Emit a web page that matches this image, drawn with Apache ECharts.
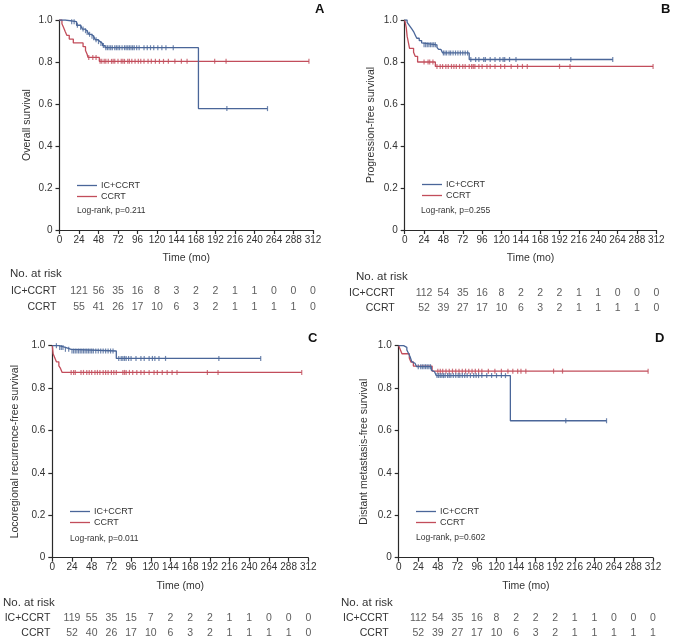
<!DOCTYPE html>
<html>
<head>
<meta charset="utf-8">
<script src="https://cdn.jsdelivr.net/npm/echarts@6/dist/echarts.min.js"></script>
<style>
html, body { margin: 0; background: #fff; }
#chart { width: 677px; height: 643px; }
</style>
</head>
<body>
<div id="chart"></div>
<script>
const FONT = "'Liberation Sans', Arial, sans-serif";
const BLUE = '#4a6699';
const RED = '#c24d5b';
const TXT = '#333';

const groups = ['IC+CCRT', 'CCRT'];
const riskTimes = [24, 48, 72, 96, 120, 144, 168, 192, 216, 240, 264, 288, 312];

// A - overall survival
const osIcSteps = [[0,1],[7,0.992],[21,0.975],[26,0.966],[28,0.957],[31,0.949],[34,0.940],[36,0.932],[39,0.923],[42,0.915],[44,0.906],[47,0.897],[50,0.888],[53,0.878],[56,0.868],[171,0.578],[256,0.578]];
const osIcCensor = [15,18,22,26,29,32,34,37,40,42,45,48,51,54,57,59,61,63,65,68,70,72,74,77,80,82,84,86,88,90,92,95,98,104,108,112,116,121,126,131,140,206,256];
const osCcSteps = [[0,1],[3,0.982],[5,0.964],[7,0.945],[9,0.927],[12,0.909],[17,0.891],[29,0.873],[32,0.855],[34,0.837],[35,0.822],[49,0.803],[307,0.803]];
const osCcCensor = [36,41,45,50,52,55,57,60,64,66,68,72,76,78,80,84,86,89,93,97,100,104,109,113,118,123,128,134,142,150,157,191,205,307];
const osRiskIc = [121,56,35,16,8,3,2,2,1,1,0,0,0];
const osRiskCc = [55,41,26,17,10,6,3,2,1,1,1,1,0];

// B - progression-free survival
const pfsIcSteps = [[0,1],[3,0.989],[5,0.978],[7,0.967],[9,0.956],[11,0.945],[13,0.929],[15,0.913],[18,0.902],[21,0.891],[23,0.882],[40,0.870],[42,0.860],[45,0.852],[47,0.843],[80,0.812],[258,0.812]];
const pfsIcCensor = [24,26,28,30,32,34,36,38,48,50,52,55,57,60,63,66,69,72,75,78,82,88,92,98,100,106,112,118,122,124,130,138,206,258];
const pfsCcSteps = [[0,1],[1,0.981],[2,0.962],[3,0.923],[4,0.904],[6,0.865],[11,0.846],[13,0.827],[16,0.800],[38,0.779],[308,0.779]];
const pfsCcCensor = [24,29,31,35,40,44,47,51,54,58,61,64,68,72,75,80,83,85,87,92,96,102,106,112,119,124,132,140,146,152,192,205,308];
const pfsRiskIc = [112,54,35,16,8,2,2,2,1,1,0,0,0];
const pfsRiskCc = [52,39,27,17,10,6,3,2,1,1,1,1,0];

// C - locoregional recurrence-free survival
const lrfsIcSteps = [[0,1],[8,0.992],[16,0.983],[23,0.975],[78,0.940],[254,0.940]];
const lrfsIcCensor = [5,9,11,13,16,20,24,26,28,30,32,34,36,38,40,42,44,46,48,50,53,56,59,62,65,68,71,74,81,84,86,88,90,93,96,102,108,112,118,122,125,130,138,203,254];
const lrfsCcSteps = [[0,1],[1,0.962],[3,0.943],[5,0.924],[8,0.905],[10,0.893],[12,0.874],[304,0.874]];
const lrfsCcCensor = [23,26,28,35,38,42,45,48,52,55,58,62,65,68,72,75,78,86,88,90,94,98,103,108,112,118,124,128,134,140,146,152,189,202,304];
const lrfsRiskIc = [119,55,35,15,7,2,2,2,1,1,0,0,0];
const lrfsRiskCc = [52,40,26,17,10,6,3,2,1,1,1,1,0];

// D - distant metastasis-free survival
const dmfsIcSteps = [[0,1],[6,0.992],[10,0.980],[12,0.964],[14,0.948],[16,0.925],[18,0.917],[20,0.909],[22,0.901],[40,0.885],[42,0.877],[44,0.870],[46,0.859],[137,0.646],[255,0.646]];
const dmfsIcCensor = [24,27,29,31,33,35,37,39,47,49,51,53,55,57,60,62,64,67,70,73,75,78,81,84,88,92,95,98,102,108,114,120,126,131,205,255];
const dmfsCcSteps = [[0,1],[2,0.981],[4,0.962],[13,0.942],[15,0.923],[18,0.904],[41,0.880],[306,0.880]];
const dmfsCcCensor = [48,51,54,58,62,66,70,74,78,82,86,90,94,98,102,110,118,126,134,140,146,150,156,190,201,306];
const dmfsRiskIc = [112,54,35,16,8,2,2,2,1,1,0,0,0];
const dmfsRiskCc = [52,39,27,17,10,6,3,2,1,1,1,1,1];

const panels = [
  {letter:'A', yName:'Overall survival', pval:'Log-rank, p=0.211',
   ic:osIcSteps, icC:osIcCensor, cc:osCcSteps, ccC:osCcCensor, riskIc:osRiskIc, riskCc:osRiskCc,
   grid:{left:59.5, top:20, width:253.5, height:210}, risk:{top:283, height:32}, riskMargin:3, yGap:27,
   letterPos:[315, 3], legendPos:[77, 181], pPos:[77, 206], noRiskPos:[10, 268]},
  {letter:'B', yName:'Progression-free survival', pval:'Log-rank, p=0.255',
   ic:pfsIcSteps, icC:pfsIcCensor, cc:pfsCcSteps, ccC:pfsCcCensor, riskIc:pfsRiskIc, riskCc:pfsRiskCc,
   grid:{left:404.7, top:20, width:251.6, height:210}, risk:{top:285, height:31}, riskMargin:10, yGap:28,
   letterPos:[661, 3], legendPos:[422, 180], pPos:[421, 206], noRiskPos:[356, 271]},
  {letter:'C', yName:'Locoregional recurrence-free survival', pval:'Log-rank, p=0.011',
   ic:lrfsIcSteps, icC:lrfsIcCensor, cc:lrfsCcSteps, ccC:lrfsCcCensor, riskIc:lrfsRiskIc, riskCc:lrfsRiskCc,
   grid:{left:52.3, top:345.7, width:256, height:212}, risk:{top:610.5, height:30}, riskMargin:2, yGap:32,
   letterPos:[308, 332], legendPos:[70, 507], pPos:[70, 534], noRiskPos:[3, 597]},
  {letter:'D', yName:'Distant metastasis-free survival', pval:'Log-rank, p=0.602',
   ic:dmfsIcSteps, icC:dmfsIcCensor, cc:dmfsCcSteps, ccC:dmfsCcCensor, riskIc:dmfsRiskIc, riskCc:dmfsRiskCc,
   grid:{left:398.7, top:345.7, width:254.3, height:212}, risk:{top:610.5, height:30}, riskMargin:10, yGap:29,
   letterPos:[655, 332], legendPos:[416, 507], pPos:[416, 533], noRiskPos:[341, 597]}
];

function survivalAt(steps, t) {
  let s = steps[0][1];
  for (const p of steps) {
    if (p[0] <= t) s = p[1];
  }
  return s;
}

const grids = [], xAxes = [], yAxes = [], series = [], legends = [], titles = [], texts = [];
const axisLine = {lineStyle:{color:'#2a2a2a', width:1.2}};
const tickStyle = {inside:false, length:4, lineStyle:{color:'#2a2a2a', width:1.2}};

panels.forEach((p, i) => {
  const g = 2 * i, r = 2 * i + 1;
  grids.push(Object.assign({containLabel:false}, p.grid));
  grids.push({left:p.grid.left, width:p.grid.width, top:p.risk.top, height:p.risk.height});

  xAxes.push({gridIndex:g, type:'value', min:0, max:312, interval:24,
    name:'Time (mo)', nameLocation:'middle', nameGap:23,
    nameTextStyle:{fontFamily:FONT, fontSize:10.5, color:TXT},
    axisLine:axisLine, axisTick:tickStyle, splitLine:{show:false},
    axisLabel:{fontFamily:FONT, fontSize:10, color:TXT, margin:5}});
  xAxes.push({gridIndex:r, type:'value', min:0, max:312, show:false});

  yAxes.push({gridIndex:g, type:'value', min:0, max:1, interval:0.2,
    name:p.yName, nameLocation:'middle', nameGap:p.yGap,
    nameTextStyle:{fontFamily:FONT, fontSize:10.5, color:TXT},
    axisLine:axisLine, axisTick:tickStyle, splitLine:{show:false},
    axisLabel:{fontFamily:FONT, fontSize:10, color:TXT, margin:7,
      formatter:v => v === 0 ? '0' : v.toFixed(1)}});
  yAxes.push({gridIndex:r, type:'category', data:groups, inverse:true,
    axisLine:{show:false}, axisTick:{show:false}, splitLine:{show:false},
    axisLabel:{interval:0, fontFamily:FONT, fontSize:10.5, color:TXT, margin:p.riskMargin}});

  const curves = [[groups[1], p.cc, p.ccC, RED], [groups[0], p.ic, p.icC, BLUE]];
  curves.forEach(([name, steps, cens, color]) => {
    series.push({type:'line', name:name, xAxisIndex:g, yAxisIndex:g, step:'end',
      data:steps, symbol:'none', lineStyle:{color:color, width:1.3}, itemStyle:{color:color},
      animation:false, z:3});
  });
  curves.forEach(([name, steps, cens, color]) => {
    series.push({type:'scatter', name:name, xAxisIndex:g, yAxisIndex:g,
      data:cens.map(t => [t, survivalAt(steps, t)]),
      symbol:'rect', symbolSize:[1.2, 5], itemStyle:{color:color}, animation:false, z:4});
  });

  [[groups[0], p.riskIc], [groups[1], p.riskCc]].forEach(([name, vals]) => {
    series.push({type:'scatter', name:'risk ' + name, xAxisIndex:r, yAxisIndex:r,
      data:vals.map((n, k) => [riskTimes[k], name, n]),
      symbolSize:1, itemStyle:{color:'rgba(0,0,0,0)'}, animation:false,
      label:{show:true, position:'inside', formatter:q => String(q.value[2]),
        fontFamily:FONT, fontSize:10.5, color:TXT}});
  });

  legends.push({left:p.legendPos[0], top:p.legendPos[1], orient:'vertical', padding:0,
    data:groups, icon:'rect', itemWidth:20, itemHeight:1.3, itemGap:2, selectedMode:false,
    textStyle:{fontFamily:FONT, fontSize:9, color:TXT, padding:[0, 0, 0, -1]}});

  titles.push({text:p.letter, left:p.letterPos[0], top:p.letterPos[1], padding:0,
    textStyle:{fontFamily:FONT, fontSize:13, fontWeight:'bold', color:'#111'}});

  texts.push({type:'text', left:p.pPos[0], top:p.pPos[1],
    style:{text:p.pval, fontFamily:FONT, fontSize:8.5, fill:TXT}});
  texts.push({type:'text', left:p.noRiskPos[0], top:p.noRiskPos[1],
    style:{text:'No. at risk', fontFamily:FONT, fontSize:11.5, fill:TXT}});
});

const chart = echarts.init(document.getElementById('chart'), null, {renderer:'canvas'});
chart.setOption({
  backgroundColor:'#fff',
  animation:false,
  title:titles,
  legend:legends,
  grid:grids,
  xAxis:xAxes,
  yAxis:yAxes,
  series:series,
  graphic:texts
});
</script>
</body>
</html>
